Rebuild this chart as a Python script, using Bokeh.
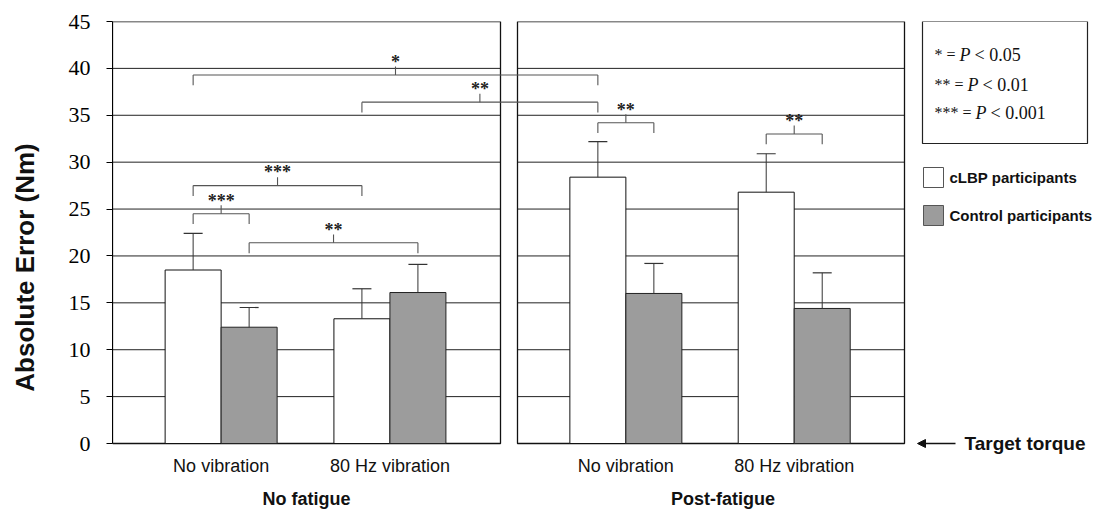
import numpy as np
from bokeh.plotting import figure
from bokeh.models import Range1d, FixedTicker, Arrow, NormalHead
from bokeh.core.properties import value
from bokeh.embed import file_html
from bokeh.resources import INLINE

# ---------------- data ----------------
phases = ["No fatigue", "Post-fatigue"]
conditions = ["No vibration", "80 Hz vibration"]
series_names = ["cLBP participants", "Control participants"]
# order: (No fatigue, No vib), (No fatigue, 80 Hz), (Post-fatigue, No vib), (Post-fatigue, 80 Hz)
clbp_mean = [18.5, 13.3, 28.4, 26.8]
clbp_err = [3.9, 3.2, 3.8, 4.1]
ctrl_mean = [12.4, 16.1, 16.0, 14.4]
ctrl_err = [2.1, 3.0, 3.2, 3.8]
y_ticks = [0, 5, 10, 15, 20, 25, 30, 35, 40, 45]
sig_stars = ["*", "**", "***"]
sig_p = ["0.05", "0.01", "0.001"]
# significance brackets: (phase, condition, series) -> (phase, condition, series), height, label
br_from = [(0, 0, 0), (0, 1, 0), (0, 0, 0), (0, 0, 0), (0, 0, 1), (1, 0, 0), (1, 1, 0)]
br_to = [(1, 0, 0), (1, 0, 0), (0, 1, 0), (0, 0, 1), (0, 1, 1), (1, 0, 1), (1, 1, 1)]
br_height = [39.3, 36.4, 27.5, 24.5, 21.4, 34.2, 33.0]
br_label = ["*", "**", "***", "***", "**", "**", "**"]

# ---------------- layout (screen-like units) ----------------
W, H = 1097, 513
X0 = 112                     # page x of frame left
TOP = 21                     # page y of value 45
panels = [(112, 500), (517, 904)]
grp_frac = [0.28, 0.715]
bar_w = 56
Y0_PX = 443                  # page y of value 0
PPU = (Y0_PX - TOP) / 45.0   # pixels per unit
YMIN = -(H - Y0_PX) / PPU


def ypx(page_y):
    return (Y0_PX - page_y) / PPU


def bar_center(ph, cond, s):
    l, r = panels[ph]
    g = l + grp_frac[cond] * (r - l)
    return g - bar_w / 2 if s == 0 else g + bar_w / 2


p = figure(width=W, height=H, x_range=Range1d(X0, W), y_range=Range1d(YMIN, 45),
           output_backend="svg", toolbar_location=None, x_axis_location=None,
           min_border_left=X0, min_border_right=0, min_border_top=TOP, min_border_bottom=0)
p.outline_line_color = None
p.xgrid.visible = False
p.ygrid.visible = False
p.background_fill_color = "white"
p.border_fill_color = "white"

ax = p.yaxis[0]
ax.ticker = FixedTicker(ticks=y_ticks)
ax.bounds = (0, 45)
ax.major_tick_out = 6
ax.major_tick_in = 0
ax.minor_tick_line_color = None
ax.axis_line_color = "black"
ax.major_tick_line_color = "black"
ax.major_label_text_font = "Liberation Serif"
ax.major_label_text_font_size = "22px"
ax.major_label_text_color = "black"
ax.major_label_standoff = 16
ax.axis_label = "Absolute Error (Nm)"
ax.axis_label_text_font = "Liberation Sans"
ax.axis_label_text_font_style = "bold"
ax.axis_label_text_font_size = "26px"
ax.axis_label_text_color = "#111111"
ax.axis_label_standoff = 26

# ---------------- panels with gridlines ----------------
gx0, gx1, gy = [], [], []
for (l, r) in panels:
    for t in y_ticks[1:-1]:
        gx0.append(l); gx1.append(r); gy.append(t)
p.segment(x0=gx0, y0=gy, x1=gx1, y1=gy, line_color="#222222", line_width=1)
p.quad(left=[pl[0] for pl in panels], right=[pl[1] for pl in panels],
       bottom=[0, 0], top=[45, 45], fill_color=None, line_color="#111111", line_width=1.3)

# ---------------- bars ----------------
idx = [(ph, c) for ph in range(2) for c in range(2)]
cx_clbp = [bar_center(ph, c, 0) for ph, c in idx]
cx_ctrl = [bar_center(ph, c, 1) for ph, c in idx]
p.vbar(x=cx_clbp, width=bar_w, bottom=0, top=clbp_mean, fill_color="white",
       line_color="#111111", line_width=1)
p.vbar(x=cx_ctrl, width=bar_w, bottom=0, top=ctrl_mean, fill_color="#9c9c9c",
       line_color="#222222", line_width=1)

# error bars (upper only)
cap = 19
for cx, m, e in ((cx_clbp, clbp_mean, clbp_err), (cx_ctrl, ctrl_mean, ctrl_err)):
    m = np.array(m); e = np.array(e); cx = np.array(cx)
    p.segment(x0=cx, y0=m, x1=cx, y1=m + e, line_color="#333333", line_width=1)
    p.segment(x0=cx - cap / 2, y0=m + e, x1=cx + cap / 2, y1=m + e, line_color="#333333", line_width=1.2)

# ---------------- significance brackets ----------------
leg, tick, star_gap = 1.1, 0.9, 0.5
sx0, sy0, sx1, sy1, tx, ty = [], [], [], [], [], []
for a, b, h, lab in zip(br_from, br_to, br_height, br_label):
    xa, xb = bar_center(*a), bar_center(*b)
    xm = (xa + xb) / 2
    sx0 += [xa, xa, xb, xm]
    sx1 += [xb, xa, xb, xm]
    sy0 += [h, h, h, h]
    sy1 += [h, h - leg, h - leg, h + tick]
    tx.append(xm); ty.append(h + tick + star_gap)
p.segment(x0=sx0, y0=sy0, x1=sx1, y1=sy1, line_color="#555555", line_width=1.1)
p.text(x=tx, y=ty, text=br_label, text_align="center", text_baseline="alphabetic",
       text_font=value("Liberation Serif"), text_font_size="18px", text_font_style="bold",
       text_color="#222222")

# ---------------- x labels ----------------
p.text(x=[panels[ph][0] + grp_frac[c] * (panels[ph][1] - panels[ph][0]) for ph, c in idx],
       y=[ypx(465)] * 4, text=[conditions[c] for ph, c in idx],
       text_align="center", text_baseline="middle", text_font=value("Liberation Sans"),
       text_font_size="18px", text_color="#111111")
phase_shift = [0, 12]
p.text(x=[(l + r) / 2 + s for (l, r), s in zip(panels, phase_shift)], y=[ypx(498)] * 2, text=phases,
       text_align="center", text_baseline="middle", text_font=value("Liberation Sans"),
       text_font_size="18px", text_font_style="bold", text_color="#111111")

# ---------------- significance key ----------------
p.quad(left=[922], right=[1087], top=[45], bottom=[ypx(143)], fill_color="white",
       line_color="#222222", line_width=1.2)
key_py = [54, 84, 112]
key_y = [ypx(v) for v in key_py]
key_x0 = 934
p_x = [key_x0 + 8 * len(s) + 17 for s in sig_stars]
p.text(x=[key_x0] * 3, y=key_y, text=[s + " =" for s in sig_stars], text_align="left",
       text_baseline="middle", text_font=value("Liberation Serif"), text_font_size="16px",
       text_color="#111111")
p.text(x=p_x, y=key_y, text=["P"] * 3, text_align="left", text_baseline="middle",
       text_font=value("Liberation Serif"), text_font_size="18px", text_font_style="italic",
       text_color="#111111")
p.text(x=[x + 15 for x in p_x], y=key_y, text=["< " + v for v in sig_p], text_align="left",
       text_baseline="middle", text_font=value("Liberation Serif"), text_font_size="18px",
       text_color="#111111")

# ---------------- series legend ----------------
leg_y = [ypx(177), ypx(215)]
p.quad(left=[923, 923], right=[943, 943], top=[ypx(167), ypx(205)], bottom=[ypx(187), ypx(225)],
       fill_color=["white", "#9c9c9c"], line_color="#555555", line_width=1)
p.text(x=[949, 949], y=leg_y, text=series_names, text_align="left", text_baseline="middle",
       text_font=value("Liberation Sans"), text_font_size="15px", text_font_style="bold",
       text_color="#111111")

# ---------------- target torque ----------------
p.add_layout(Arrow(end=NormalHead(size=8, fill_color="#111111", line_color="#111111"),
                   x_start=955, y_start=0, x_end=917, y_end=0, line_color="#111111", line_width=1.3))
p.text(x=[964], y=[0], text=["Target torque"], text_align="left", text_baseline="middle",
       text_font=value("Liberation Sans"), text_font_size="19px", text_font_style="bold",
       text_color="#111111")

open("out.html", "w").write(file_html(p, INLINE))
